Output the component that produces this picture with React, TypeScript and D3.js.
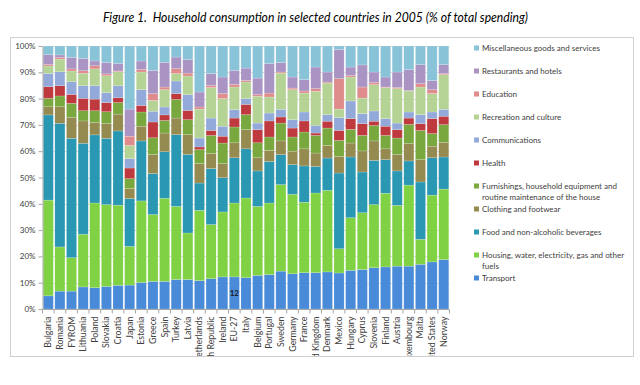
import React, { useEffect, useRef } from 'react';
import * as d3 from 'd3';

const countries = ['Bulgaria', 'Romania', 'FYROM', 'Lithuania', 'Poland', 'Slovakia', 'Croatia', 'Japan', 'Estonia', 'Greece', 'Spain', 'Turkey', 'Latvia', 'Netherlands', 'Czech Republic', 'Ireland', 'EU-27', 'Italy', 'Belgium', 'Portugal', 'Sweden', 'Germany', 'France', 'United Kingdom', 'Denmark', 'Mexico', 'Hungary', 'Cyprus', 'Slovenia', 'Finland', 'Austria', 'Luxembourg', 'Malta', 'United States', 'Norway'];

// values in % of total spending, bottom of the stack first
const transport = [5, 6.8, 6.8, 8.4, 8.1, 8.6, 9, 9.1, 10.1, 10.5, 10.5, 11.2, 11.2, 10.8, 11.5, 12.2, 12.2, 11.9, 12.8, 13.1, 14.4, 13.4, 13.8, 13.8, 14.1, 13.7, 14.7, 15, 15.7, 16, 16.3, 16.3, 17, 17.9, 18.8];
const housing = [36.4, 16.8, 12.7, 20, 32.2, 31.1, 30.5, 14.7, 31, 25.4, 31.6, 27.8, 17.7, 26.7, 20.6, 24.7, 28.1, 30.3, 26.2, 27.2, 32.9, 30.2, 26.8, 30.3, 31, 9.2, 20, 21.6, 24, 28, 23.1, 30.8, 9.5, 25.4, 26.8];
const food = [32.4, 47, 45.4, 34.6, 25.9, 25.2, 28.2, 18.2, 22.8, 15.6, 17.7, 27.3, 29.9, 10.4, 21.3, 13, 17.2, 18.7, 13.5, 15.8, 11.4, 11.3, 13.8, 10.1, 12.3, 28.8, 23.1, 15.5, 16.8, 12.8, 13.1, 9.2, 21.8, 14.2, 12.2];
const clothing = [3.1, 6.3, 8, 8.5, 4.7, 5.7, 6.4, 3.8, 5.6, 7.2, 7.1, 6.3, 7.5, 7.4, 5.7, 5.4, 5.7, 7.3, 5, 4.2, 5.2, 5.1, 6.5, 5.1, 4.8, 6.3, 5.3, 8, 7.4, 4.1, 6.2, 6.6, 8.5, 4.4, 5.6];
const furnishings = [3.2, 4.1, 5.3, 3.9, 4.5, 4.4, 4.4, 3.8, 5.4, 6.4, 4.8, 7.1, 5.7, 5.3, 6.9, 7.8, 6, 5.7, 5.7, 5.1, 6.8, 5.4, 6.4, 6.7, 6.6, 6.1, 5.2, 5.9, 5.9, 5.1, 6.3, 7.3, 11.1, 4.8, 6.7];
const health = [4.4, 3.9, 3.4, 4.7, 4.4, 3.5, 1.8, 4, 2.5, 6, 2.1, 2.2, 3.5, 1, 1.9, 2.6, 3.4, 3.9, 5, 6.1, 2.3, 3.4, 4.2, 0.9, 2.6, 3.8, 4.1, 4.5, 1.6, 3.5, 3.2, 2.4, 2.6, 5.7, 3.2];
const communications = [5.1, 5.3, 4.8, 4.8, 5.1, 3.8, 4.6, 3.6, 6, 4.1, 3, 4.8, 6, 3.4, 4.7, 3.8, 3.2, 2.2, 2.5, 3, 2.9, 3.2, 3.4, 2.9, 2.5, 4.9, 6.7, 3.8, 3.9, 2.9, 2.5, 2.3, 3.4, 2.5, 2.6];
const recreation = [2.8, 4.8, 4.1, 4.7, 6.4, 6.4, 5.3, 5, 6.7, 4.1, 6.6, 2.8, 7.1, 11, 11.6, 10.5, 8.6, 6.3, 10.2, 6.1, 13.8, 11.4, 7.2, 13, 12, 3.2, 9.1, 5.9, 10, 11.8, 13.1, 8, 10.5, 7, 13.2];
const education = [0.6, 0.7, 0.8, 1, 1.2, 0.7, 0.3, 3.5, 1, 2.6, 1, 1.9, 1.1, 0.8, 0.8, 1.9, 1, 0.6, 0.6, 1.5, 0.4, 0.6, 0.8, 1, 0.4, 11.6, 0.6, 4.2, 0.8, 0.2, 0.4, 0.2, 1.3, 1.5, 0.4];
const restaurants = [3.7, 0.9, 4.4, 4.7, 1.8, 4.3, 2.9, 10.3, 3.2, 8.8, 9.4, 4.4, 5.1, 5.7, 4.5, 6.3, 5.3, 4.7, 6.3, 11.2, 3.6, 4.2, 4.3, 8.2, 3.8, 11.1, 3.2, 8.4, 4, 3.8, 5.9, 7.9, 7.2, 3.5, 3.4];
const misc = [3.3, 3.4, 4.3, 4.7, 5.7, 6.3, 6.6, 24, 5.7, 9.3, 6.2, 4.2, 5.2, 17.5, 10.5, 11.8, 9.3, 8.4, 12.2, 6.7, 6.3, 11.8, 12.8, 8, 9.9, 1.3, 8, 7.2, 9.9, 11.8, 9.9, 9, 7.1, 13.1, 7.1];

const seriesNames = ['Transport', 'Housing', 'Food', 'Clothing', 'Furnishings', 'Health', 'Communications', 'Recreation', 'Education', 'Restaurants', 'Misc'];
const seriesValues = [transport, housing, food, clothing, furnishings, health, communications, recreation, education, restaurants, misc];
const seriesColors = ['#4a8bd9', '#80d244', '#2b98b3', '#958a50', '#78a83e', '#be3a3e', '#92a9d9', '#b4d394', '#e08c8c', '#a994c4', '#89c3d8'];
const legendLabels = [
  ['Miscellaneous goods and services'],
  ['Restaurants and hotels'],
  ['Education'],
  ['Recreation and culture'],
  ['Communications'],
  ['Health'],
  ['Furnishings, household equipment and', 'routine maintenance of the house'],
  ['Clothing and footwear'],
  ['Food and non-alcoholic beverages'],
  ['Housing, water, electricity, gas and other', 'fuels'],
  ['Transport'],
];
const yTicks = [0, 10, 20, 30, 40, 50, 60, 70, 80, 90, 100];
const title = 'Figure 1.  Household consumption in selected countries in 2005 (% of total spending)';

const font = "Lato, 'Open Sans', sans-serif";

const App = () => {
  const ref = useRef(null);
  useEffect(() => {
    draw(ref.current);
  }, []);
  return (
    <svg ref={ref} width={640} height={385}
      style={{ position: 'absolute', left: 0, top: 0, background: '#fff' }} />
  );
};

const draw = (node) => {
  const svg = d3.select(node);
  svg.selectAll('*').remove();

  const data = countries.map((c, i) => {
    const row = { country: c };
    seriesNames.forEach((s, j) => { row[s] = seriesValues[j][i]; });
    return row;
  });
  const stacked = d3.stack().keys(seriesNames)(data);

  const x = d3.scaleBand().domain(countries).range([42.5, 449.5]).paddingInner(0.13).paddingOuter(0.06);
  const y = d3.scaleLinear().domain([0, 100]).range([309, 46]);

  svg.append('text')
    .attr('x', 315.5).attr('y', 22)
    .attr('text-anchor', 'middle')
    .attr('font-family', font).attr('font-style', 'italic')
    .attr('font-size', 13.5).attr('fill', '#000')
    .style('white-space', 'pre')
    .attr('textLength', 425).attr('lengthAdjust', 'spacingAndGlyphs')
    .text(title);

  svg.append('defs').append('clipPath').attr('id', 'box')
    .append('rect').attr('x', 10).attr('y', 37).attr('width', 623).attr('height', 319);

  svg.append('rect')
    .attr('x', 10.5).attr('y', 37.5).attr('width', 623).attr('height', 319)
    .attr('fill', '#fff').attr('stroke', '#d0d0d0');

  const g = svg.append('g').attr('clip-path', 'url(#box)');

  // gridlines
  g.append('g').selectAll('line').data(yTicks.slice(1)).join('line')
    .attr('x1', 42.5).attr('x2', 449.5)
    .attr('y1', d => Math.round(y(d)) + 0.5).attr('y2', d => Math.round(y(d)) + 0.5)
    .attr('stroke', '#d9d9d9');

  // bars
  g.append('g').selectAll('g').data(stacked).join('g')
    .attr('fill', (d, i) => seriesColors[i])
    .selectAll('rect').data(d => d).join('rect')
    .attr('x', d => x(d.data.country))
    .attr('width', x.bandwidth())
    .attr('y', d => y(d[1]))
    .attr('height', d => y(d[0]) - y(d[1]))
    .attr('stroke', '#ffffff').attr('stroke-opacity', 0.35).attr('stroke-width', 0.5);

  // data label on EU-27 transport
  const eu = stacked[0].find(d => d.data.country === 'EU-27');
  g.append('text')
    .attr('x', x('EU-27') + x.bandwidth() / 2)
    .attr('y', y((eu[0] + eu[1]) / 2) + 3)
    .attr('text-anchor', 'middle')
    .attr('font-family', font).attr('font-size', 8).attr('font-weight', 'bold')
    .attr('fill', '#1a1a1a')
    .text(Math.round(eu[1] - eu[0]));

  // y axis
  const yAxis = g.append('g').attr('transform', 'translate(42.5,0)')
    .call(d3.axisLeft(y).tickValues(yTicks).tickFormat(d => d + '%').tickSize(4).tickSizeOuter(0));
  yAxis.selectAll('path, line').attr('stroke', '#a6a6a6');
  yAxis.selectAll('text').attr('font-family', font).attr('font-size', 8).attr('fill', '#404040').attr('x', -7);

  // x axis
  const xAxis = g.append('g').attr('transform', 'translate(0,309.5)');
  xAxis.append('line').attr('x1', 42.5).attr('x2', 449.5).attr('stroke', '#a6a6a6');
  xAxis.selectAll('line.tick').data(d3.range(countries.length + 1)).join('line')
    .attr('class', 'tick')
    .attr('x1', i => 42.5 + i * (407 / countries.length))
    .attr('x2', i => 42.5 + i * (407 / countries.length))
    .attr('y1', 0).attr('y2', 4)
    .attr('stroke', '#a6a6a6');
  xAxis.selectAll('text').data(countries).join('text')
    .attr('transform', d => `translate(${x(d) + x.bandwidth() / 2 + 3},7) rotate(-90)`)
    .attr('text-anchor', 'end')
    .attr('font-family', font).attr('font-size', 8.8).attr('fill', '#404040')
    .text(d => d);

  // legend
  const legend = g.append('g');
  legendLabels.forEach((lines, i) => {
    const cy = 48 + i * 23;
    legend.append('rect')
      .attr('x', 474).attr('y', cy - 2.5).attr('width', 5).attr('height', 5)
      .attr('fill', seriesColors[seriesColors.length - 1 - i]);
    lines.forEach((t, k) => {
      legend.append('text')
        .attr('x', 482).attr('y', cy + 3 + k * 10.5)
        .attr('font-family', font).attr('font-size', 8).attr('fill', '#404040')
        .text(t);
    });
  });
};

export default App;
